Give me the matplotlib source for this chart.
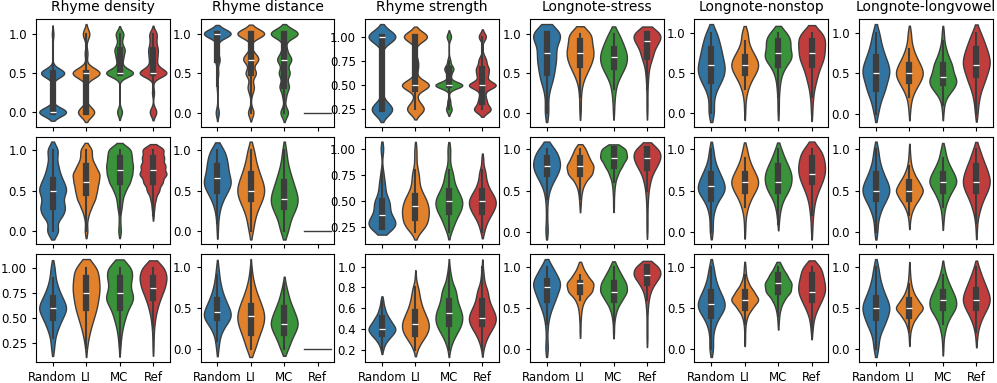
import numpy as np
import pandas as pd
import matplotlib
matplotlib.use("Agg")
import matplotlib.pyplot as plt
from matplotlib.ticker import MultipleLocator
import seaborn as sns

models = ["Random", "LI", "MC", "Ref"]
metrics = ["Rhyme density", "Rhyme distance", "Rhyme strength",
           "Longnote-stress", "Longnote-nonstop", "Longnote-longvowel"]

# value levels, then how many samples sit on each level (Random, LI, MC, Ref)
grid = [0.0, 0.1, 0.2, 0.3, 0.4, 0.5, 0.6, 0.7, 0.8, 0.9, 1.0]

# --- row 1 ---
density_1_levels = [0.0, 0.25, 0.5, 0.6, 0.7, 0.75, 0.8, 0.9, 1.0]
density_1 = [[52, 0, 45, 0, 0, 0, 0, 0, 3],
             [30, 3, 50, 0, 0, 5, 0, 0, 12],
             [8, 0, 44, 6, 10, 0, 15, 5, 12],
             [10, 3, 40, 8, 10, 0, 12, 7, 10]]
distance_1_levels = [0.0, 0.2, 0.25, 0.33, 0.5, 0.67, 0.75, 0.8, 1.0]
distance_1 = [[8, 0, 0, 3, 5, 12, 0, 2, 70],
              [8, 0, 3, 8, 15, 20, 6, 0, 40],
              [10, 4, 0, 12, 14, 18, 0, 6, 36],
              [100, 0, 0, 0, 0, 0, 0, 0, 0]]
strength_1_levels = [0.25, 0.33, 0.4, 0.5, 0.6, 0.67, 0.75, 0.8, 1.0]
strength_1 = [[38, 3, 0, 5, 0, 0, 2, 0, 52],
              [20, 5, 0, 35, 0, 5, 5, 0, 30],
              [10, 5, 0, 50, 6, 16, 5, 0, 8],
              [18, 8, 5, 30, 10, 12, 7, 2, 8]]
stress_1 = [[4, 1, 2, 3, 8, 9, 10, 13, 10, 10, 30],
            [1, 1, 1, 2, 4, 9, 14, 18, 18, 14, 18],
            [1, 1, 2, 3, 6, 12, 18, 20, 17, 12, 8],
            [1, 1, 1, 1, 2, 3, 5, 12, 14, 25, 35]]
nonstop_1 = [[5, 2, 3, 6, 12, 16, 16, 12, 12, 8, 8],
             [1, 1, 2, 5, 10, 18, 24, 18, 10, 5, 6],
             [1, 1, 1, 2, 3, 6, 12, 24, 16, 20, 14],
             [1, 1, 2, 3, 6, 8, 12, 17, 16, 18, 16]]
longvowel_1 = [[3, 4, 7, 12, 12, 18, 15, 11, 8, 5, 5],
               [1, 2, 4, 10, 18, 24, 18, 11, 6, 3, 3],
               [1, 2, 5, 17, 25, 16, 16, 9, 5, 2, 2],
               [2, 2, 4, 6, 11, 13, 18, 16, 13, 9, 6]]

# --- row 2 ---
density_2 = [[8, 3, 12, 14, 10, 16, 12, 8, 6, 4, 7],
             [2, 1, 3, 7, 12, 14, 16, 18, 12, 7, 8],
             [2, 1, 1, 3, 4, 8, 14, 17, 18, 16, 16],
             [0, 0, 1, 2, 4, 9, 14, 20, 18, 16, 16]]
distance_2 = [[1, 1, 2, 4, 8, 14, 20, 14, 14, 12, 10],
              [3, 4, 6, 10, 15, 18, 15, 11, 8, 5, 5],
              [6, 6, 10, 16, 18, 14, 11, 8, 5, 3, 3],
              [100, 0, 0, 0, 0, 0, 0, 0, 0, 0, 0]]
strength_2_levels = [0.2, 0.25, 0.3, 0.33, 0.35, 0.4, 0.45, 0.5, 0.55, 0.6,
                     0.67, 0.75, 0.8, 0.9, 1.0]
strength_2 = [[0, 26, 8, 16, 0, 10, 6, 15, 0, 6, 5, 3, 1, 0, 4],
              [3, 10, 12, 0, 10, 14, 10, 12, 7, 6, 5, 5, 2, 2, 2],
              [2, 4, 6, 0, 7, 12, 12, 15, 10, 10, 8, 6, 3, 2, 3],
              [2, 3, 5, 0, 8, 12, 14, 16, 12, 10, 8, 5, 3, 2, 0]]
stress_2 = [[3, 1, 1, 1, 2, 4, 10, 18, 24, 20, 16],
            [0, 0, 0, 1, 2, 4, 10, 25, 28, 18, 12],
            [0, 0, 0, 1, 1, 2, 4, 10, 20, 32, 30],
            [1, 1, 1, 1, 2, 3, 6, 10, 20, 28, 27]]
nonstop_2 = [[3, 2, 3, 6, 12, 24, 20, 14, 8, 4, 4],
             [1, 1, 2, 5, 10, 18, 24, 18, 11, 6, 4],
             [0, 1, 2, 4, 8, 16, 20, 20, 15, 9, 5],
             [1, 1, 2, 3, 5, 9, 14, 18, 18, 16, 13]]
longvowel_2 = [[3, 2, 5, 9, 16, 22, 17, 11, 7, 4, 4],
               [0, 1, 3, 9, 20, 30, 20, 10, 4, 2, 1],
               [0, 1, 2, 4, 9, 16, 26, 20, 12, 6, 4],
               [1, 1, 3, 6, 10, 16, 20, 17, 13, 8, 5]]

# --- row 3 ---
density_3 = [[0, 0, 3, 4, 10, 18, 28, 18, 10, 5, 4],
             [0, 0, 1, 3, 6, 10, 14, 16, 18, 16, 16],
             [0, 0, 1, 2, 4, 8, 12, 23, 13, 18, 19],
             [0, 0, 1, 1, 2, 4, 8, 14, 22, 26, 22]]
distance_3 = [[2, 3, 6, 14, 25, 19, 13, 8, 5, 3, 2],
              [6, 8, 12, 16, 18, 15, 11, 7, 4, 2, 1],
              [6, 10, 16, 22, 18, 13, 8, 5, 2, 0, 0],
              [100, 0, 0, 0, 0, 0, 0, 0, 0, 0, 0]]
strength_3_levels = [0.2, 0.25, 0.3, 0.35, 0.4, 0.45, 0.5, 0.55, 0.6, 0.67,
                     0.75, 0.8, 0.9, 1.0]
strength_3 = [[2, 4, 10, 18, 24, 16, 12, 6, 5, 3, 0, 0, 0, 0],
              [2, 4, 8, 12, 14, 14, 12, 9, 8, 8, 5, 3, 1, 0],
              [1, 2, 4, 6, 10, 11, 13, 11, 11, 11, 9, 6, 4, 1],
              [1, 2, 4, 6, 10, 13, 15, 12, 11, 10, 8, 4, 3, 1]]
stress_3 = [[3, 1, 1, 2, 4, 8, 14, 17, 25, 15, 10],
            [0, 0, 1, 1, 2, 4, 10, 28, 32, 16, 6],
            [0, 0, 1, 1, 3, 7, 16, 26, 24, 15, 7],
            [0, 1, 1, 1, 1, 2, 4, 8, 18, 34, 30]]
nonstop_3 = [[4, 2, 3, 6, 12, 23, 20, 13, 8, 5, 4],
             [0, 1, 1, 2, 6, 18, 36, 22, 9, 3, 2],
             [0, 0, 0, 1, 2, 5, 12, 26, 28, 18, 8],
             [0, 0, 1, 2, 4, 9, 15, 20, 19, 16, 14]]
longvowel_3 = [[4, 3, 6, 12, 15, 20, 15, 10, 7, 4, 4],
               [0, 1, 2, 7, 18, 36, 20, 9, 4, 2, 1],
               [1, 1, 3, 6, 12, 22, 22, 16, 10, 5, 2],
               [0, 1, 2, 5, 10, 17, 22, 18, 13, 8, 4]]

# (levels, counts, kde bw adjust, cut, y tick step) per panel
panels = [
    [(density_1_levels, density_1, 0.5, 2, 0.5),
     (distance_1_levels, distance_1, 0.45, 2, 0.5),
     (strength_1_levels, strength_1, 0.45, 2, 0.25),
     (grid, stress_1, 0.9, 1.2, 0.5), (grid, nonstop_1, 0.9, 1.2, 0.5),
     (grid, longvowel_1, 0.9, 1.2, 0.5)],
    [(grid, density_2, 0.6, 1.5, 0.5), (grid, distance_2, 0.9, 1.2, 0.5),
     (strength_2_levels, strength_2, 0.8, 1.2, 0.25), (grid, stress_2, 0.9, 1.2, 0.5),
     (grid, nonstop_2, 0.9, 1.2, 0.5), (grid, longvowel_2, 0.9, 1.2, 0.5)],
    [(grid, density_3, 0.9, 1.2, 0.25), (grid, distance_3, 0.9, 1.2, 0.5),
     (strength_3_levels, strength_3, 0.9, 1.2, 0.2), (grid, stress_3, 0.9, 1.2, 0.5),
     (grid, nonstop_3, 0.9, 1.2, 0.5), (grid, longvowel_3, 0.9, 1.2, 0.5)],
]

plt.rcParams["xtick.labelsize"] = 8.5
plt.rcParams["ytick.labelsize"] = 8.5
plt.rcParams["xtick.major.size"] = 3
plt.rcParams["ytick.major.size"] = 3

fig, axes = plt.subplots(3, 6, figsize=(9.97, 3.83), dpi=100, sharex=True)

for r, row in enumerate(panels):
    for c, (levels, counts, bw, cut, step) in enumerate(row):
        ax = axes[r, c]
        frames = []
        for m, cnt in zip(models, counts):
            frames.append(pd.DataFrame({"model": m, "value": np.repeat(levels, cnt)}))
        df = pd.concat(frames, ignore_index=True)
        sns.violinplot(data=df, x="model", y="value", hue="model", order=models,
                       hue_order=models, bw_adjust=bw, cut=cut, linewidth=1,
                       legend=False, ax=ax)
        ax.yaxis.set_major_locator(MultipleLocator(step))
        ax.set_xlabel("")
        ax.set_ylabel("")
        if r == 0:
            ax.set_title(metrics[c], fontsize=10)

fig.subplots_adjust(left=0.036, right=0.996, top=0.95, bottom=0.055,
                    wspace=0.23, hspace=0.09)
fig.savefig("out.png")
